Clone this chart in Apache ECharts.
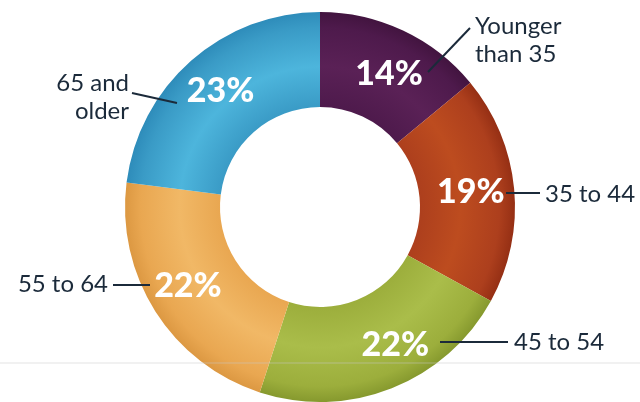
<!DOCTYPE html>
<html>
<head>
<meta charset="utf-8">
<script src="https://cdn.jsdelivr.net/npm/echarts@6/dist/echarts.min.js"></script>
<style>
html,body{margin:0;padding:0;background:#fff;}
#chart{width:640px;height:402px;}
</style>
</head>
<body>
<div id="chart"></div>
<script>
// Data
const categories = ['Younger\nthan 35', '35 to 44', '45 to 54', '55 to 64', '65 and\nolder'];
const shares = [14, 19, 22, 22, 23];
const baseColors = ['#4e1a4c', '#ad3f1d', '#9cae3c', '#e9a751', '#3a9bc6'];
const lightColors = ['#5a2156', '#bd4c1f', '#aabd4a', '#f1b866', '#4db5dc'];
const darkColors = ['#42143f', '#952f14', '#86992e', '#dc9842', '#2e8cba'];

const CX = 320, CY = 207, R0 = 100, R1 = 195;

function sliceColor(i) {
  return {
    type: 'radial', x: CX, y: CY, r: R1, global: true,
    colorStops: [
      { offset: 0, color: darkColors[i] },
      { offset: R0 / R1, color: baseColors[i] },
      { offset: 0.72, color: lightColors[i] },
      { offset: 0.92, color: baseColors[i] },
      { offset: 1, color: darkColors[i] }
    ]
  };
}

// label layout (anchor offsets)
const innerShift = [[5, 3], [1, -1], [20, -2], [-5, -2], [0, -3]];
const outerLayout = [
  { x: 475, y: 40, align: 'left', line: [[428, 72], [470, 28]] },
  { x: 545, y: 194, align: 'left', line: [[506, 193], [540, 193]] },
  { x: 514, y: 342, align: 'left', line: [[440, 342], [508, 342]] },
  { x: 108, y: 284, align: 'right', line: [[113, 285], [150, 285]] },
  { x: 129, y: 97, align: 'right', line: [[132, 93], [177, 103]] }
];

const chart = echarts.init(document.getElementById('chart'), null, { renderer: 'canvas' });
const data = categories.map((c, i) => ({ name: c, value: shares[i], itemStyle: { color: sliceColor(i) } }));

chart.setOption({
  animation: false,
  backgroundColor: '#ffffff',
  series: [
    {
      type: 'pie',
      center: [CX, CY],
      radius: [R0, R1],
      startAngle: 90,
      clockwise: true,
      silent: true,
      itemStyle: { borderWidth: 0 },
      label: {
        show: true,
        position: 'inside',
        formatter: p => p.value + '%',
        color: '#ffffff',
        fontFamily: 'Lato',
        fontWeight: 900,
        fontSize: 34
      },
      labelLayout: p => ({ dx: innerShift[p.dataIndex][0], dy: innerShift[p.dataIndex][1] }),
      data: data
    },
    {
      type: 'pie',
      center: [CX, CY],
      radius: [R0, R1],
      startAngle: 90,
      clockwise: true,
      silent: true,
      z: 5,
      itemStyle: { color: 'rgba(0,0,0,0)', borderWidth: 0 },
      label: {
        show: true,
        position: 'outside',
        formatter: p => p.name,
        color: '#1b2a3a',
        fontFamily: 'Lato',
        fontSize: 24,
        lineHeight: 28,
        overflow: 'none'
      },
      labelLine: { show: true, lineStyle: { color: '#1b2a3a', width: 2 } },
      labelLayout: p => {
        const L = outerLayout[p.dataIndex];
        return { x: L.x, y: L.y, align: L.align, verticalAlign: 'middle', labelLinePoints: L.line };
      },
      data: categories.map((c, i) => ({ name: c, value: shares[i] }))
    }
  ],
  graphic: [
    { type: 'line', z: 100, shape: { x1: 0, y1: 363, x2: 640, y2: 363 }, style: { stroke: 'rgba(200,200,200,0.5)', lineWidth: 1 } }
  ]
});
</script>
</body>
</html>
